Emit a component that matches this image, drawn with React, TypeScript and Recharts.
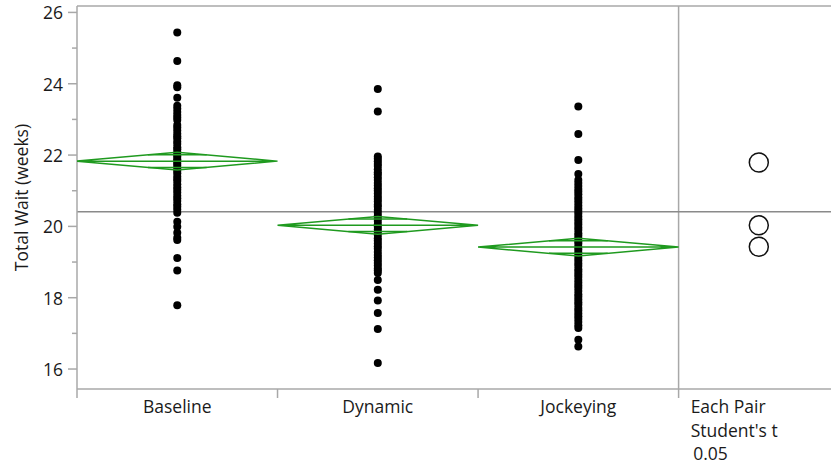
import React from "react"
import { ScatterChart, Scatter, XAxis, YAxis, ReferenceLine } from "recharts"

const categories = ["Baseline", "Dynamic", "Jockeying"]

const baselineWait = [
  25.44, 24.64, 23.96, 23.9, 23.61, 23.38, 23.3, 23.21, 23.12, 23.05, 22.98, 22.84, 22.77, 22.69,
  22.6, 22.53, 22.47, 22.38, 22.31, 22.22, 22.16, 22.08, 22.01, 21.95, 21.88, 21.83, 21.76, 21.7,
  21.62, 21.55, 21.49, 21.4, 21.33, 21.27, 21.18, 21.1, 21.03, 20.95, 20.86, 20.79, 20.71, 20.62,
  20.55, 20.47, 20.38, 20.13, 19.99, 19.82, 19.68, 19.62, 19.11, 18.76, 17.79,
]
const dynamicWait = [
  23.85, 23.22, 21.96, 21.9, 21.83, 21.75, 21.69, 21.6, 21.52, 21.46, 21.38, 21.3, 21.22, 21.15,
  21.07, 21.0, 20.92, 20.84, 20.77, 20.7, 20.61, 20.55, 20.46, 20.38, 20.3, 20.23, 20.15, 20.06,
  19.99, 19.91, 19.83, 19.76, 19.67, 19.6, 19.52, 19.44, 19.37, 19.28, 19.2, 19.13, 19.05, 18.97,
  18.9, 18.82, 18.76, 18.69, 18.5, 18.22, 17.92, 17.57, 17.12, 16.17,
]
const jockeyingWait = [
  23.36, 22.59, 21.86, 21.47, 21.3, 21.22, 21.13, 21.05, 20.98, 20.9, 20.81, 20.74, 20.66, 20.58,
  20.5, 20.43, 20.36, 20.28, 20.2, 20.12, 20.05, 19.97, 19.9, 19.81, 19.74, 19.66, 19.58, 19.51,
  19.42, 19.35, 19.27, 19.2, 19.12, 19.04, 18.96, 18.89, 18.8, 18.73, 18.65, 18.58, 18.5, 18.42,
  18.34, 18.27, 18.19, 18.1, 18.03, 17.95, 17.87, 17.8, 17.71, 17.64, 17.56, 17.48, 17.4, 17.32,
  17.23, 17.15, 16.82, 16.63,
]

const groupMeans = [21.83, 20.03, 19.42]
const ciHalfWidth = [0.248, 0.25, 0.25]
const grandMean = 20.41
const circleCenters = [21.79, 20.03, 19.43]
const yTicks = [16, 17, 18, 19, 20, 21, 22, 23, 24, 25, 26]
const compareLines = ["Each Pair", "Student's t", "0.05"]

const Y_MIN = 15.44
const Y_MAX = 26.18
const X_MAX = 3.76
const CIRCLE_X = 3.4
const TEXT_X = 3.06

const FONT = "'Open Sans', 'Noto Sans', sans-serif"
const GREEN = "#1f9a1f"
const AXIS_GRAY = "#a8a8a8"
const MEAN_GRAY = "#8a8a8a"
const TEXT_COLOR = "#1a1a1a"

const groups = [baselineWait, dynamicWait, jockeyingWait]
const xTicks = [0, 0.5, 1, 1.5, 2, 2.5, 3, TEXT_X]

const dotData = groups.map((vals, i) => vals.map((v) => ({ x: i + 0.5, y: v })))

// means diamond outline, mean line and overlap marks for each group
const diamondData = groupMeans.map((m, i) => {
  const h = ciHalfWidth[i]
  return [
    { x: i, y: m },
    { x: i + 0.5, y: m + h },
    { x: i + 1, y: m },
    { x: i + 0.5, y: m - h },
    { x: i, y: m },
    { x: i + 1, y: m },
  ]
})
const overlapData = groupMeans.flatMap((m, i) => {
  const o = ciHalfWidth[i] / Math.SQRT2
  const d = 0.5 * (1 - 1 / Math.SQRT2)
  return [
    [{ x: i + 0.5 - d, y: m + o }, { x: i + 0.5 + d, y: m + o }],
    [{ x: i + 0.5 - d, y: m - o }, { x: i + 0.5 + d, y: m - o }],
  ]
})
const circleData = circleCenters.map((c) => ({ x: CIRCLE_X, y: c }))

const XTick = (props: any) => {
  const { x, y, payload } = props
  const v = payload.value
  if (Number.isInteger(v)) {
    return <line x1={x} x2={x} y1={y} y2={y + 9} stroke={AXIS_GRAY} strokeWidth={1.5} />
  }
  if (v === TEXT_X) {
    return (
      <text x={x} y={y} fontFamily={FONT} fontSize={17.5} fill={TEXT_COLOR}>
        {compareLines.map((t, i) => (
          <tspan key={i} x={x + (i === 2 ? 2.5 : 0)} y={y + 24 + i * 23.5}>
            {t}
          </tspan>
        ))}
      </text>
    )
  }
  return (
    <text x={x} y={y + 24} textAnchor="middle" fontFamily={FONT} fontSize={17.5} fill={TEXT_COLOR}>
      {categories[Math.floor(v)]}
    </text>
  )
}

const YTick = (props: any) => {
  const { x, y, payload } = props
  const v = payload.value
  const major = v % 2 === 0
  return (
    <g>
      <line x1={x - (major ? 9 : 5)} x2={x} y1={y} y2={y} stroke={AXIS_GRAY} strokeWidth={1.5} />
      {major && (
        <text x={x - 14} y={y + 7} textAnchor="end" fontFamily={FONT} fontSize={17.5} fill={TEXT_COLOR}>
          {v}
        </text>
      )}
    </g>
  )
}

const YTitle = (props: any) => {
  const vb = props.viewBox || { x: 0, y: 6, width: 77, height: 383 }
  const cx = vb.x + 21
  const cy = vb.y + vb.height / 2
  return (
    <text
      x={cx}
      y={cy}
      transform={`rotate(-90 ${cx} ${cy})`}
      textAnchor="middle"
      dominantBaseline="central"
      fontFamily={FONT}
      fontSize={17.5}
      fill={TEXT_COLOR}
    >
      Total Wait (weeks)
    </text>
  )
}

const Dot = (p: any) => <circle cx={p.cx} cy={p.cy} r={4} fill="#000" />
const NoShape = () => <g />
const Ring = (p: any) => <circle cx={p.cx} cy={p.cy} r={9.5} fill="none" stroke="#111" strokeWidth={1.5} />

export default function App() {
  return (
    <div style={{ position: "absolute", left: 0, top: 0, width: 831, height: 470, background: "#fff" }}>
      <ScatterChart width={831} height={470} margin={{ top: 6, right: 0, bottom: 0, left: 0 }}>
        <XAxis
          type="number"
          dataKey="x"
          domain={[0, X_MAX]}
          ticks={xTicks}
          interval={0}
          tickLine={false}
          tickSize={0}
          tickMargin={0}
          tick={(p: any) => <XTick {...p} />}
          height={81}
          allowDataOverflow
          axisLine={{ stroke: AXIS_GRAY, strokeWidth: 1.5 }}
        />
        <YAxis
          type="number"
          dataKey="y"
          domain={[Y_MIN, Y_MAX]}
          ticks={yTicks}
          interval={0}
          tickLine={false}
          tickSize={0}
          tickMargin={0}
          width={77}
          tick={(p: any) => <YTick {...p} />}
          allowDataOverflow
          axisLine={{ stroke: AXIS_GRAY, strokeWidth: 1.5 }}
          label={<YTitle />}
        />
        <ReferenceLine y={Y_MAX} stroke={AXIS_GRAY} strokeWidth={1.5} />
        <ReferenceLine x={3} stroke={AXIS_GRAY} strokeWidth={1.5} />
        <ReferenceLine y={grandMean} stroke={MEAN_GRAY} strokeWidth={1.5} />
        {dotData.map((d, i) => (
          <Scatter key={`dots-${i}`} data={d} shape={Dot} isAnimationActive={false} />
        ))}
        {diamondData.map((d, i) => (
          <Scatter
            key={`diamond-${i}`}
            data={d}
            shape={NoShape}
            line={{ stroke: GREEN, strokeWidth: 1.5 }}
            lineType="joint"
            isAnimationActive={false}
          />
        ))}
        {overlapData.map((d, i) => (
          <Scatter
            key={`overlap-${i}`}
            data={d}
            shape={NoShape}
            line={{ stroke: GREEN, strokeWidth: 1.5 }}
            lineType="joint"
            isAnimationActive={false}
          />
        ))}
        <Scatter data={circleData} shape={Ring} isAnimationActive={false} />
      </ScatterChart>
    </div>
  )
}
